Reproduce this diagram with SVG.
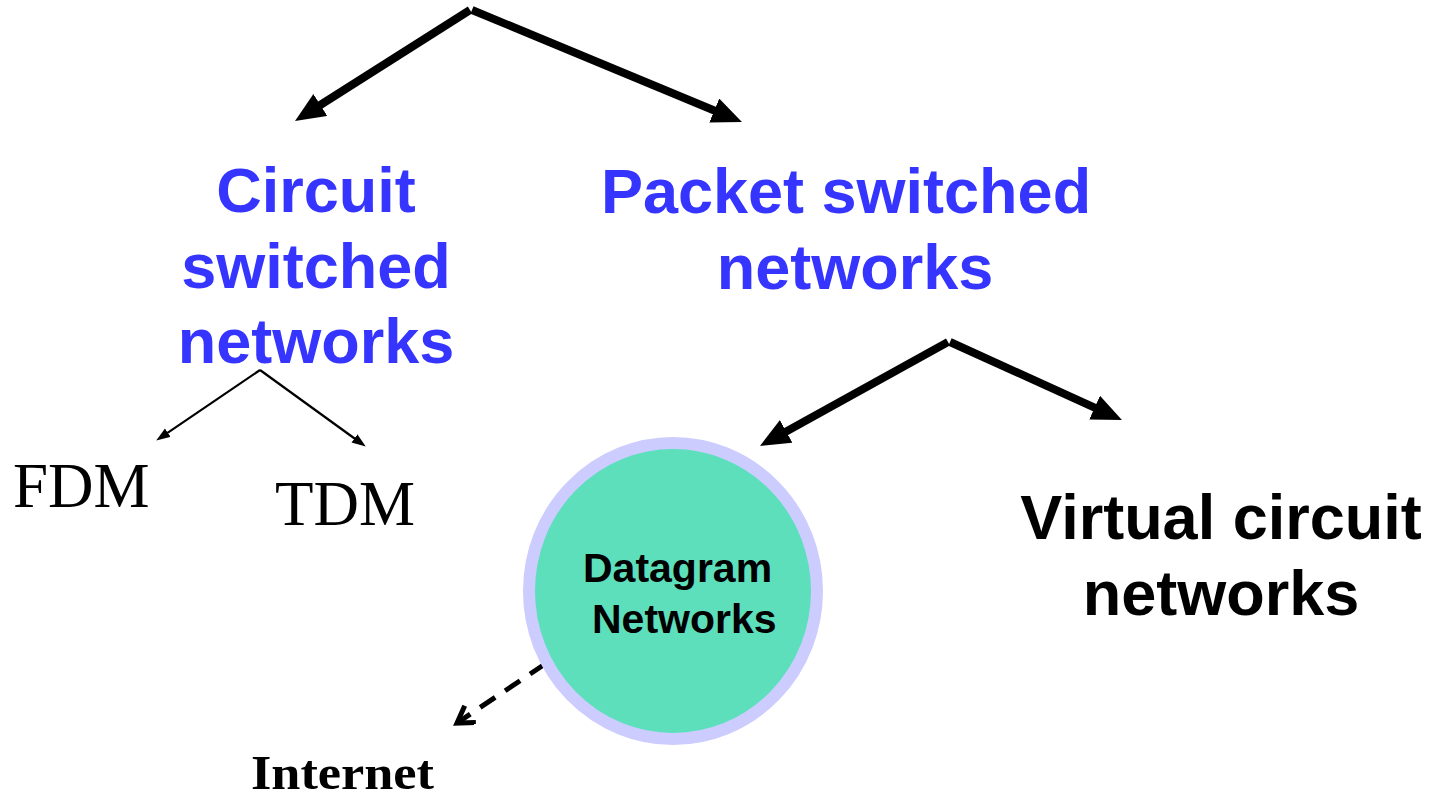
<svg xmlns="http://www.w3.org/2000/svg" width="1444" height="800" viewBox="0 0 1444 800">
  <defs>
    <style>
      .blue { font-family: "Liberation Sans", Arial, sans-serif; font-weight: bold; font-size: 63px; fill: #3535FF; text-anchor: middle; }
      .black { font-family: "Liberation Sans", Arial, sans-serif; font-weight: bold; font-size: 63px; fill: #000; text-anchor: middle; }
      .serif { font-family: "Liberation Serif", "Times New Roman", serif; fill: #000; }
      .thick { stroke: #000; stroke-width: 8; fill: none; marker-end: url(#bigHead); }
      .thin { stroke: #000; stroke-width: 2.2; fill: none; marker-end: url(#smallHead); }
      .dash { stroke: #000; stroke-width: 5; fill: none; stroke-dasharray: 18 12; marker-end: url(#openHead); }
    </style>
    <marker id="bigHead" markerUnits="userSpaceOnUse" markerWidth="32" markerHeight="28" refX="15" refY="13" orient="auto">
      <path d="M0,0 L30,13 L0,26 z" fill="#000"/>
    </marker>
    <marker id="smallHead" markerUnits="userSpaceOnUse" markerWidth="16" markerHeight="12" refX="7" refY="5" orient="auto">
      <path d="M0,0 L14,5 L0,10 z" fill="#000"/>
    </marker>
    <marker id="openHead" markerUnits="userSpaceOnUse" markerWidth="24" markerHeight="24" refX="18" refY="11" orient="auto">
      <path d="M2,1 L18,11 L2,21" fill="none" stroke="#000" stroke-width="5"/>
    </marker>
  </defs>
  <rect width="1444" height="800" fill="#fff"/>

  <g id="connectors">
    <line class="thick" x1="470" y1="10" x2="307.7" y2="113"/>
    <line class="thick" x1="472" y1="10" x2="728.1" y2="116.3"/>
    <line class="thick" x1="948" y1="342" x2="773.1" y2="438.7"/>
    <line class="thick" x1="950" y1="342" x2="1108.3" y2="413.8"/>
    <line class="thin" x1="260" y1="370" x2="162" y2="436.6"/>
    <line class="thin" x1="260" y1="370" x2="360.1" y2="442.5"/>
    <line class="dash" x1="545" y1="664" x2="457" y2="723"/>
  </g>

  <g id="circuit">
    <text class="blue" x="316" y="212">Circuit</text>
    <text class="blue" x="316" y="288">switched</text>
    <text class="blue" x="316" y="363">networks</text>
  </g>

  <g id="packet">
    <text class="blue" x="846" y="213">Packet switched</text>
    <text class="blue" x="855" y="289">networks</text>
  </g>

  <g id="fdm">
    <text class="serif" x="13" y="507" font-size="63">FDM</text>
  </g>
  <g id="tdm">
    <text class="serif" x="275" y="525" font-size="63">TDM</text>
  </g>

  <g id="datagram">
    <ellipse cx="673" cy="591" rx="144" ry="148" fill="#5DDFBC" stroke="#CCCCFF" stroke-width="12"/>
    <text x="583" y="582" font-family="Liberation Sans, Arial, sans-serif" font-weight="bold" font-size="41" fill="#000">Datagram</text>
    <text x="592" y="633" font-family="Liberation Sans, Arial, sans-serif" font-weight="bold" font-size="41" fill="#000">Networks</text>
  </g>

  <g id="virtual">
    <text class="black" x="1221" y="539">Virtual circuit</text>
    <text class="black" x="1221" y="615">networks</text>
  </g>

  <g id="internet">
    <text class="serif" x="251" y="789" font-size="48" font-weight="bold" textLength="183" lengthAdjust="spacingAndGlyphs">Internet</text>
  </g>
</svg>
